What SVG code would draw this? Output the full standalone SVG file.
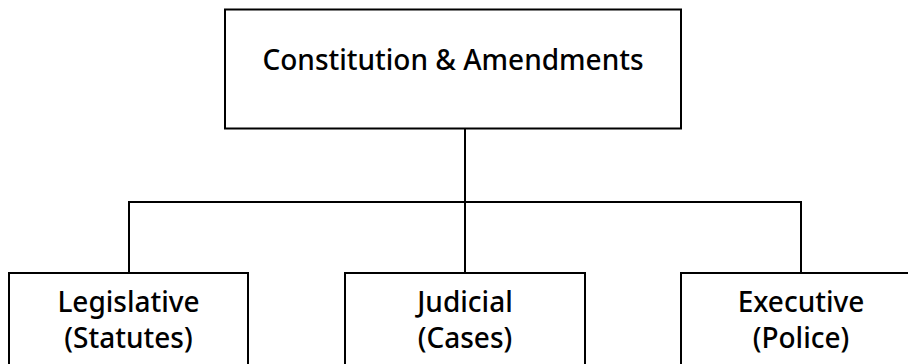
<svg xmlns="http://www.w3.org/2000/svg" width="908" height="364" viewBox="0 0 908 364">
<style>
.box{fill:#fff;stroke:#000;stroke-width:2}
.lbl{font-family:"Noto Sans",sans-serif;font-size:28px;font-weight:500;fill:#000;text-anchor:middle}
.con{fill:none;stroke:#000;stroke-width:2}
</style>
<rect width="908" height="364" fill="#fff"/>
<g id="connectors">
<path class="con" d="M465 128V273"/>
<path class="con" d="M129 273V202H801V273"/>
</g>
<g id="constitution">
<rect class="box" x="225" y="9.5" width="456" height="119"/>
<text class="lbl" x="453" y="70">Constitution &amp; Amendments</text>
</g>
<g id="legislative">
<rect class="box" x="9" y="273" width="239" height="110"/>
<text class="lbl" x="128.5" y="312">Legislative</text>
<text class="lbl" x="128.5" y="348">(Statutes)</text>
</g>
<g id="judicial">
<rect class="box" x="345" y="273" width="240" height="110"/>
<text class="lbl" x="465" y="312">Judicial</text>
<text class="lbl" x="465" y="348">(Cases)</text>
</g>
<g id="executive">
<rect class="box" x="681" y="273" width="240" height="110"/>
<text class="lbl" x="801" y="312">Executive</text>
<text class="lbl" x="801" y="348">(Police)</text>
</g>
</svg>
